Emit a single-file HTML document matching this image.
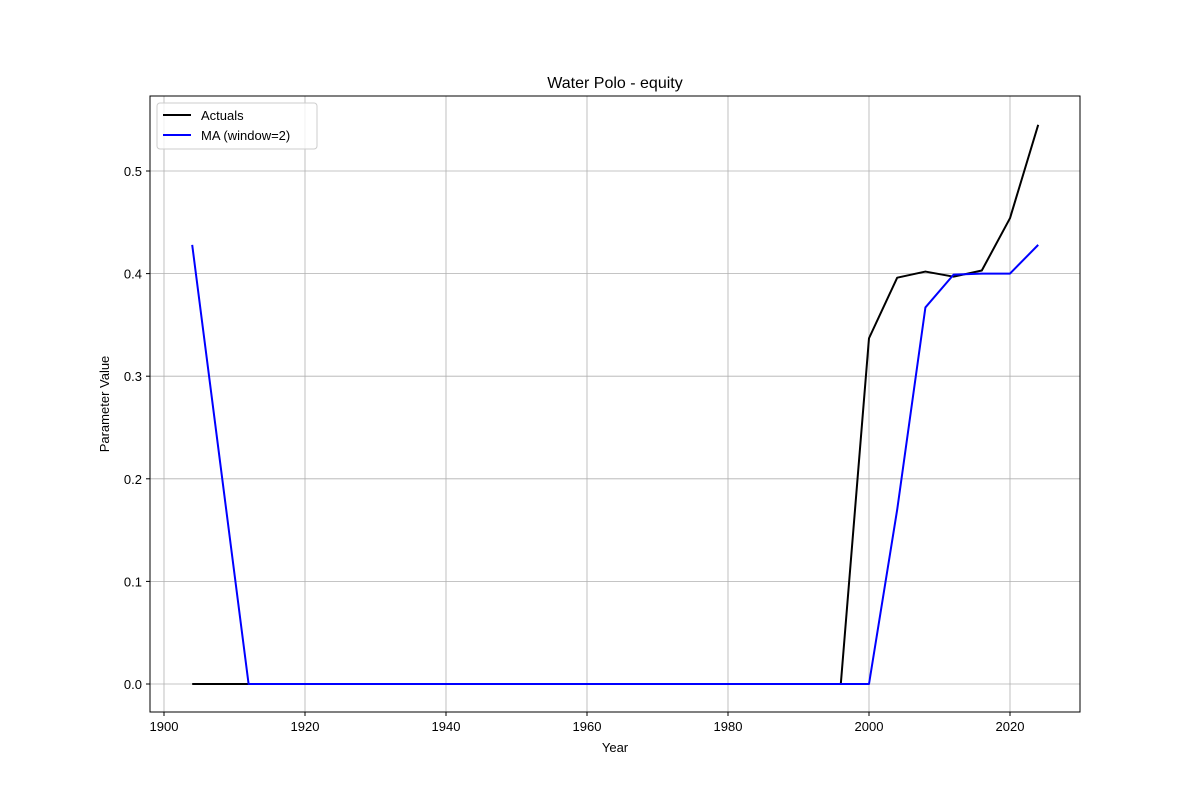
<!DOCTYPE html>
<html><head><meta charset="utf-8">
<style>
html,body{margin:0;padding:0;background:#fff;}
svg{display:block;font-family:"Liberation Sans","DejaVu Sans",sans-serif;}
</style></head>
<body>
<svg id="chart" width="1200" height="800" viewBox="0 0 1200 800">
<rect width="1200" height="800" fill="#fff"/>
<g id="grid"></g>
<g id="series"></g>
<rect x="150" y="96" width="930" height="616" fill="none" stroke="#000" stroke-width="1"/>
<g id="ticks"></g>
<text x="615" y="88" text-anchor="middle" font-size="16">Water Polo - equity</text>
<text x="615" y="752" text-anchor="middle" font-size="13">Year</text>
<text x="109" y="404" text-anchor="middle" font-size="13" transform="rotate(-90 109 404)">Parameter Value</text>
<g>
<rect x="157" y="103" width="160" height="46" rx="3" fill="#fff" fill-opacity="0.8" stroke="#ccc"/>
<g>
<line x1="163" y1="115" x2="191" y2="115" stroke="#000" stroke-width="2"/>
<text x="201" y="120" font-size="13">Actuals</text></g>
<g>
<line x1="163" y1="135" x2="191" y2="135" stroke="#0000ff" stroke-width="2"/>
<text x="201" y="140" font-size="13">MA (window=2)</text></g>
</g>
</svg>
<script>
const years = [1904,1908,1912,1916,1920,1924,1928,1932,1936,1940,1944,1948,1952,1956,1960,1964,1968,1972,1976,1980,1984,1988,1992,1996,2000,2004,2008,2012,2016,2020,2024];
const actuals = [0,0,0,0,0,0,0,0,0,0,0,0,0,0,0,0,0,0,0,0,0,0,0,0,0.337,0.396,0.402,0.397,0.403,0.454,0.545];
const maValues = [0.428,0.214,0,0,0,0,0,0,0,0,0,0,0,0,0,0,0,0,0,0,0,0,0,0,0,0.17,0.367,0.399,0.400,0.400,0.428];
const xTicks = [1900,1920,1940,1960,1980,2000,2020];
const yTicks = [0,0.1,0.2,0.3,0.4,0.5];
const yTickLabels = ["0.0","0.1","0.2","0.3","0.4","0.5"];

const xs = v => 164 + (v - 1900) * (1010 - 164) / 120;
const ys = v => 684 - v * (684 - 171) / 0.5;
const NS = "http://www.w3.org/2000/svg";
const grid = document.getElementById('grid'), ticks = document.getElementById('ticks'), series = document.getElementById('series');
function mk(tag, attrs, parent){const e=document.createElementNS(NS,tag);for(const k in attrs)e.setAttribute(k,attrs[k]);parent.appendChild(e);return e;}

xTicks.forEach(t=>{
  const x=xs(t);
  const g=mk('line',{x1:x,x2:x,y1:96,y2:712,stroke:'#b0b0b0','stroke-width':0.8},grid);
  
  
  mk('line',{x1:x,x2:x,y1:712,y2:716,stroke:'#000'},ticks);
  const tx=mk('text',{x:x,y:731,'text-anchor':'middle','font-size':13},ticks);
  tx.textContent=t;
  
  
});
yTicks.forEach((t,i)=>{
  const y=ys(t);
  const g=mk('line',{x1:150,x2:1080,y1:y,y2:y,stroke:'#b0b0b0','stroke-width':0.8},grid);
  
  
  mk('line',{x1:146,x2:150,y1:y,y2:y,stroke:'#000'},ticks);
  const tx=mk('text',{x:142,y:y+5,'text-anchor':'end','font-size':13},ticks);
  tx.textContent=yTickLabels[i];
  
  
});
function line(vals,color,name){
  const p=mk('polyline',{points:years.map((y,i)=>xs(y)+','+ys(vals[i])).join(' '),fill:'none',stroke:color,'stroke-width':2,'stroke-linejoin':'round'},series);
  
  
}
line(actuals,'#000','actuals-line');
line(maValues,'#0000ff','ma-line');
</script>
</body></html>
